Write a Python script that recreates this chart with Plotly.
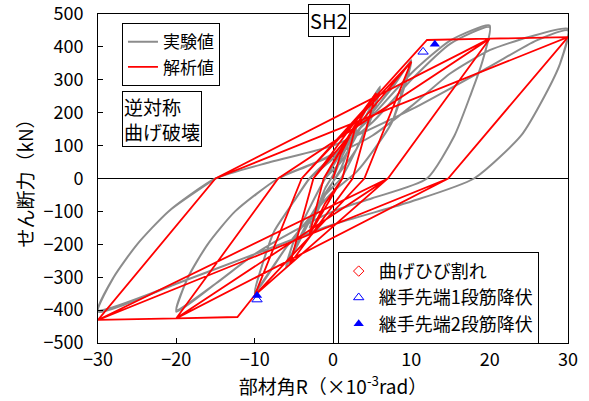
import plotly.graph_objects as go

# ---- analysis (red) path: rotation angle (x1e-3 rad), shear force (kN)
ana_x = [0, 1.0, 3.0, 1.2, -1.0, -3.0, -1.2, 3.0, 1.2, -3.0, -1.2,
         5.5, 2.5, -5.5, -2.5, 5.5, 2.5, -5.5, -2.5,
         10, 4, -10, -4, 10, 4, -10, -4,
         12, 20, 7, -10, -12.2, -20, -7, 20, 7, -20, -7, 20,
         30, 14.7, -20, -30, -15, 30, 14.7, -30, -15, 20, 7, -30]
ana_y = [0, 75, 170, 0, -75, -170, 0, 170, 0, -170, 0,
         260, 0, -260, 0, 260, 0, -260, 0,
         355, 0, -355, 0, 355, 0, -355, 0,
         421, 425, 0, -355, -421, -425, 0, 425, 0, -425, 0, 425,
         430, 0, -425, -430, 0, 430, 0, -430, 0, 425, 0, -430]

# ---- experiment (gray) path
exp_x = [0, 1, 2, 3, 2, 1, 0, -1, -2, -3, -2, -1, 0, 1, 3, 2, 1, 0, -1, -3, -2, -1,
         0, 2, 4, 6, 5, 3, 1, -1, -3, -6, -5, -3, -1, 1, 3, 6, 5, 3, 0, -3, -6, -5, -3,
         -1, 2, 5, 8, 10, 9, 7.5, 5, 3, 0, -3, -6, -10, -9, -7.5, -5, -3, 0, 3, 6, 10,
         9, 7.5, 5, 3, 0, -3, -6, -10, -9, -7.5, -5, -3,
         0, 5, 10, 15, 20, 19, 17.5, 15.5, 12, 5, 0, -5, -10, -15, -20,
         -18.5, -16, -12.5, -7, -3, 0, 5, 10, 15, 20, 19, 17.5, 15.5, 12, 5, 0, -5, -10, -15, -20,
         -18.5, -16, -12.5, -7, 0, 5, 10, 15, 20, 25, 30,
         29, 27, 24, 18, 10, 0, -10, -20, -30,
         -28, -25, -21, -15, -8, 0, 10, 20, 26, 30,
         29, 27, 24, 18, 10, 0, -10, -20, -30,
         -28, -25, -21, -15]
exp_y = [0, 60, 110, 150, 90, 30, -10, -50, -100, -150, -90, -30, 10, 60, 150, 90, 30, -10, -50, -150, -90, -30,
         10, 110, 200, 280, 200, 90, 0, -50, -130, -270, -190, -90, 0, 50, 130, 275, 190, 90, -10, -120, -265, -190, -90,
         0, 110, 200, 290, 360, 280, 170, 80, 20, -40, -120, -210, -350, -260, -160, -70, 0, 60, 140, 230, 355,
         270, 170, 80, 20, -40, -120, -210, -345, -260, -160, -70, 0,
         70, 190, 320, 420, 465, 350, 250, 130, 0, -60, -100, -160, -230, -320, -405,
         -300, -200, -100, 0, 40, 75, 170, 300, 410, 460, 350, 250, 130, 0, -60, -100, -160, -230, -320, -400,
         -300, -200, -100, 0, 70, 130, 220, 320, 390, 430, 455,
         350, 250, 130, 0, -70, -140, -230, -320, -405,
         -300, -200, -100, 0, 50, 100, 210, 340, 420, 450,
         350, 250, 130, 0, -70, -140, -230, -320, -400,
         -300, -200, -100, 0]

# ---- event markers
crack_x = [None]
crack_y = [None]
yield1_x = [11.5, -9.7]
yield1_y = [385, -368]
yield2_x = [13.0, -9.7]
yield2_y = [408, -356]

# ---- ticks
x_ticks = [-30, -20, -10, 0, 10, 20, 30]
y_ticks = [-500, -400, -300, -200, -100, 0, 100, 200, 300, 400, 500]

FONT = "Noto Sans CJK JP"

fig = go.Figure()
fig.add_trace(go.Scatter(x=exp_x, y=exp_y, mode="lines", name="実験値",
                         line=dict(color="#8c8c8c", width=2, shape="spline", smoothing=0.6),
                         legend="legend"))
fig.add_trace(go.Scatter(x=ana_x, y=ana_y, mode="lines", name="解析値",
                         line=dict(color="#ff0000", width=1.8), legend="legend"))
fig.add_trace(go.Scatter(x=crack_x, y=crack_y, mode="markers", name="曲げひび割れ",
                         marker=dict(symbol="diamond-open", color="#ff0000", size=8),
                         legend="legend2"))
fig.add_trace(go.Scatter(x=yield1_x, y=yield1_y, mode="markers", name="継手先端1段筋降伏",
                         marker=dict(symbol="triangle-up-open", color="#0000ff", size=9),
                         legend="legend2"))
fig.add_trace(go.Scatter(x=yield2_x, y=yield2_y, mode="markers", name="継手先端2段筋降伏",
                         marker=dict(symbol="triangle-up", color="#0000ff", size=9),
                         legend="legend2"))

axis_common = dict(showline=True, linecolor="black", linewidth=1, mirror=True,
                   ticks="inside", ticklen=5, tickcolor="black", showgrid=False,
                   zeroline=True, zerolinecolor="black", zerolinewidth=1,
                   tickmode="array", ticklabeloverflow="allow", automargin=False,
                   tickfont=dict(family=FONT, size=18, color="black"))

fig.update_layout(
    width=589, height=401,
    margin=dict(l=98, r=21, t=14, b=58),
    paper_bgcolor="white", plot_bgcolor="white",
    font=dict(family=FONT, size=18, color="black"),
    xaxis=dict(range=[-30, 30], tickvals=x_ticks, **axis_common,
               title=dict(text="部材角R（×10<sup>-3</sup>rad）", standoff=3,
                          font=dict(family=FONT, size=19))),
    yaxis=dict(range=[-500, 500], tickvals=y_ticks, **axis_common,
               ticklabelstandoff=10,
               title=dict(text="せん断力（kN）", standoff=4,
                          font=dict(family=FONT, size=19))),
    legend=dict(x=0.051, y=0.972, xanchor="left", yanchor="top",
                bordercolor="black", borderwidth=1, bgcolor="white",
                font=dict(family=FONT, size=17), tracegroupgap=0,
                itemwidth=30),
    legend2=dict(x=0.51, y=0.277, xanchor="left", yanchor="top",
                 bordercolor="black", borderwidth=1, bgcolor="white",
                 font=dict(family=FONT, size=18), itemwidth=30),
    annotations=[
        dict(text="逆対称<br>曲げ破壊", xref="paper", yref="paper",
             x=0.051, y=0.765, xanchor="left", yanchor="top", showarrow=False,
             align="left", bordercolor="black", borderwidth=1, bgcolor="white",
             font=dict(family=FONT, size=19), borderpad=1),
        dict(text="SH2", xref="paper", yref="paper",
             x=0.491, y=1.03, xanchor="center", yanchor="top", showarrow=False,
             bordercolor="black", borderwidth=1, bgcolor="white",
             font=dict(family=FONT, size=20), borderpad=1),
    ],
)

fig.write_html("out.html", config={"displayModeBar": False},
               post_script="document.body.style.margin='0';document.body.style.overflow='hidden';")
